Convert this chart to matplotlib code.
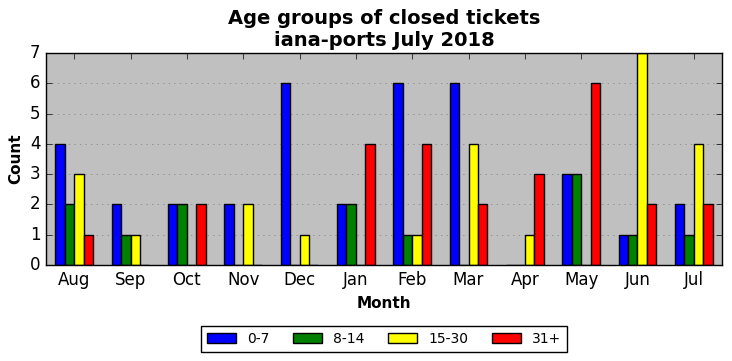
import matplotlib
matplotlib.use('Agg')
import matplotlib.pyplot as plt
import numpy as np

plt.style.use('classic')

months = ['Aug', 'Sep', 'Oct', 'Nov', 'Dec', 'Jan', 'Feb', 'Mar', 'Apr', 'May', 'Jun', 'Jul']
age_0_7 = [4, 2, 2, 2, 6, 2, 6, 6, 0, 3, 1, 2]
age_8_14 = [2, 1, 2, 0, 0, 2, 1, 0, 0, 3, 1, 1]
age_15_30 = [3, 1, 0, 2, 1, 0, 1, 4, 1, 0, 7, 4]
age_31 = [1, 0, 2, 0, 0, 4, 4, 2, 3, 6, 2, 2]

series = [age_0_7, age_8_14, age_15_30, age_31]
labels = ['0-7', '8-14', '15-30', '31+']
colors = ['blue', 'green', 'yellow', 'red']

fig = plt.figure(figsize=(7.32, 3.61), dpi=100)
ax = fig.add_axes([46/732, 1-265/361, 676/732, 212/361])
ax.set_facecolor('#c0c0c0')

x = np.arange(len(months))
w = 1/6
for i, (vals, lab, col) in enumerate(zip(series, labels, colors)):
    ax.bar(x + (i-2)*w, vals, w, align='edge', color=col, edgecolor='black', label=lab)

ax.set_xlim(-0.5, len(months)-0.5)
ax.set_ylim(0, 7)
ax.set_xticks(x)
ax.set_xticklabels(months, fontsize=12)
ax.tick_params(axis='y', labelsize=12)
ax.yaxis.grid(True, color='gray', linestyle=':')
ax.set_axisbelow(True)
ax.set_xlabel('Month', fontsize=11, fontweight='bold')
ax.set_ylabel('Count', fontsize=11, fontweight='bold')
ax.set_title('Age groups of closed tickets\niana-ports July 2018', fontsize=14, fontweight='bold')
ax.legend(loc='upper center', bbox_to_anchor=(0.5, -0.27), ncol=4, fontsize=10,
          handlelength=2.1, columnspacing=1.7, borderaxespad=0.3)

fig.savefig('out.png', dpi=100, facecolor='white')
